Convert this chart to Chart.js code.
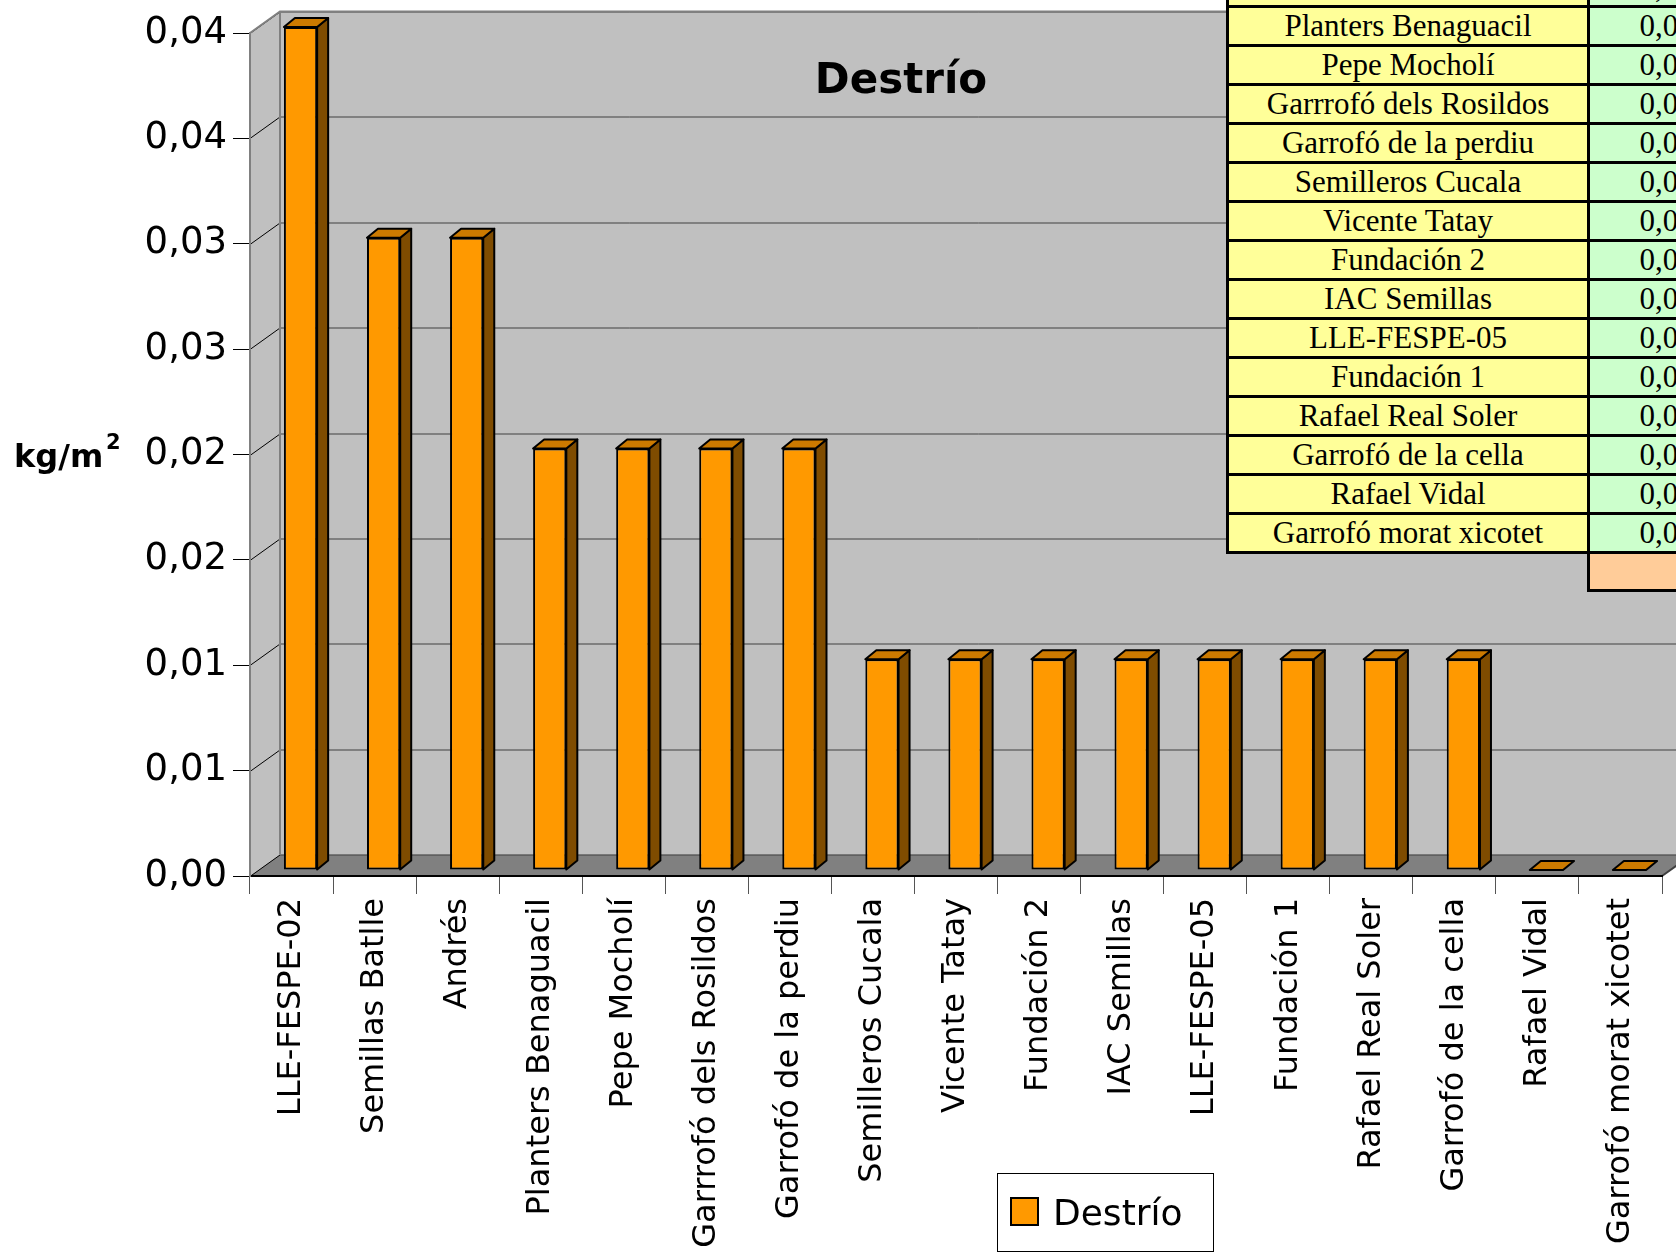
<!DOCTYPE html>
<html lang="es">
<head>
<meta charset="utf-8">
<title>Destrío</title>
<script src="https://cdn.jsdelivr.net/npm/chart.js@4.4.1/dist/chart.umd.min.js"></script>
<style>
    html, body { margin: 0; padding: 0; background: #fff; overflow: hidden; }
    #wrap { position: relative; width: 1676px; height: 1253px; overflow: hidden; }
    #destrioChart { position: absolute; left: 0; top: 0; }
    #dataTable {
        position: absolute; left: 1226px; top: -34px;
        display: grid; grid-template-columns: 358px 153px; grid-auto-rows: 36px;
        gap: 3px; padding: 3px; background: #000;
        font-family: "Liberation Serif", "Times New Roman", serif; font-size: 31px;
    }
    #dataTable div { display: flex; align-items: center; justify-content: center; white-space: nowrap; }
    #dataTable .name { background: #ffff99; }
    #dataTable .val { background: #ccffcc; }
    #totalCell {
        position: absolute; left: 1587px; top: 554px; width: 200px; height: 35px;
        background: #ffcc99; border-left: 3px solid #000; border-bottom: 3px solid #000;
    }
</style>
</head>
<body>
<div id="wrap">
    <canvas id="destrioChart" width="1676" height="1253"></canvas>
    <div id="dataTable"></div>
    <div id="totalCell"></div>
</div>
<script>
const categories = ["LLE-FESPE-02", "Semillas Batlle", "Andrés", "Planters Benaguacil", "Pepe Mocholí",
    "Garrrofó dels Rosildos", "Garrofó de la perdiu", "Semilleros Cucala", "Vicente Tatay", "Fundación 2",
    "IAC Semillas", "LLE-FESPE-05", "Fundación 1", "Rafael Real Soler", "Garrofó de la cella",
    "Rafael Vidal", "Garrofó morat xicotet"];
const destrioValues = [0.04, 0.03, 0.03, 0.02, 0.02, 0.02, 0.02, 0.01, 0.01, 0.01,
    0.01, 0.01, 0.01, 0.01, 0.01, 0, 0];
const yTickLabels = ["0,00", "0,01", "0,01", "0,02", "0,02", "0,03", "0,03", "0,04", "0,04"];

// spreadsheet table pasted over the chart (top row is cut off)
const tableNames = ["Andrés", "Planters Benaguacil", "Pepe Mocholí", "Garrrofó dels Rosildos",
    "Garrofó de la perdiu", "Semilleros Cucala", "Vicente Tatay", "Fundación 2", "IAC Semillas",
    "LLE-FESPE-05", "Fundación 1", "Rafael Real Soler", "Garrofó de la cella", "Rafael Vidal",
    "Garrofó morat xicotet"];
const tableValues = ["0,03", "0,02", "0,02", "0,02", "0,02", "0,01", "0,01", "0,01", "0,01",
    "0,01", "0,01", "0,01", "0,01", "0,00", "0,00"];

// fake 3D offsets
const WALL_DX = 30, WALL_DY = 21.5;
const BAR_DX = 9, BAR_DY = 6;
const DEPTH_DX = 11, DEPTH_DY = 9;
const FONT = "'DejaVu Sans', Verdana, sans-serif";

function poly(ctx, pts, fill, stroke, lw) {
    ctx.beginPath();
    pts.forEach((p, i) => i ? ctx.lineTo(p[0], p[1]) : ctx.moveTo(p[0], p[1]));
    ctx.closePath();
    if (fill) { ctx.fillStyle = fill; ctx.fill(); }
    if (stroke) { ctx.strokeStyle = stroke; ctx.lineWidth = lw || 1; ctx.stroke(); }
}

const walls3d = {
    id: "walls3d",
    beforeDraw(chart) {
        const { ctx, chartArea: a, scales: { y } } = chart;
        const L = a.left, R = a.right, T = a.top, B = a.bottom;
        ctx.save();
        // back wall, side wall, floor
        ctx.fillStyle = "#c0c0c0";
        ctx.fillRect(L + WALL_DX, T - WALL_DY, R - L, B - T);
        poly(ctx, [[L, T], [L + WALL_DX, T - WALL_DY], [L + WALL_DX, B - WALL_DY], [L, B]], "#c0c0c0");
        poly(ctx, [[L, B], [L + WALL_DX, B - WALL_DY], [R + WALL_DX, B - WALL_DY], [R, B]], "#808080");

        // grid lines on the back wall + slanted ones on the side wall
        ctx.lineWidth = 1;
        y.ticks.forEach(t => {
            const py = Math.round(y.getPixelForValue(t.value)) + 0.5;
            ctx.strokeStyle = "#404040";
            ctx.beginPath();
            ctx.moveTo(L + WALL_DX, py - WALL_DY);
            ctx.lineTo(R + WALL_DX, py - WALL_DY);
            ctx.stroke();
            ctx.strokeStyle = "#000";
            ctx.beginPath();
            ctx.moveTo(L, py);
            ctx.lineTo(L + WALL_DX, py - WALL_DY);
            ctx.stroke();
        });

        // wall edges
        ctx.strokeStyle = "#808080";
        ctx.lineWidth = 2;
        ctx.beginPath();
        ctx.moveTo(L, T);
        ctx.lineTo(L + WALL_DX, T - WALL_DY);
        ctx.lineTo(R + WALL_DX, T - WALL_DY);
        ctx.moveTo(L + WALL_DX, T - WALL_DY);
        ctx.lineTo(L + WALL_DX, B - WALL_DY);
        ctx.stroke();
        ctx.strokeStyle = "#404040";
        ctx.beginPath();
        ctx.moveTo(R, B);
        ctx.lineTo(R + WALL_DX, B - WALL_DY);
        ctx.stroke();
        ctx.restore();
    },
    beforeDatasetsDraw(chart) {
        chart.ctx.save();
        chart.ctx.translate(BAR_DX, -BAR_DY);
    },
    afterDatasetsDraw(chart) {
        const ctx = chart.ctx;
        ctx.lineJoin = "round";
        chart.getDatasetMeta(0).data.forEach(bar => {
            const { x, y, base, width } = bar.getProps(["x", "y", "base", "width"], true);
            const l = x - width / 2, r = x + width / 2;
            // side face
            if (base - y > 0.5) {
                poly(ctx, [[r, y], [r + DEPTH_DX, y - DEPTH_DY], [r + DEPTH_DX, base - DEPTH_DY], [r, base]],
                    "#7f4c00", "#000", 2);
            }
            // top face
            poly(ctx, [[l, y], [l + DEPTH_DX, y - DEPTH_DY], [r + DEPTH_DX, y - DEPTH_DY], [r, y]],
                "#cc7a00", "#000", 2);
        });
        ctx.restore();
    },
    afterDraw(chart) {
        const ctx = chart.ctx;
        const ds = chart.data.datasets[0];
        ctx.save();
        ctx.fillStyle = "#000";
        ctx.textBaseline = "alphabetic";

        // title inside the plot
        ctx.textAlign = "center";
        ctx.font = "bold 42px " + FONT;
        ctx.fillText(ds.label, 901, 93);

        // axis title kg/m2
        ctx.textAlign = "left";
        ctx.font = "bold 32px " + FONT;
        ctx.fillText("kg/m", 14, 467);
        ctx.font = "bold 21px " + FONT;
        ctx.fillText("2", 106, 449);

        // legend
        ctx.fillStyle = "#fff";
        ctx.fillRect(997.5, 1173.5, 216, 78);
        ctx.strokeStyle = "#000";
        ctx.lineWidth = 1;
        ctx.strokeRect(997.5, 1173.5, 216, 78);
        ctx.fillStyle = ds.backgroundColor;
        ctx.fillRect(1011, 1198, 27, 27);
        ctx.lineWidth = 2;
        ctx.strokeRect(1011, 1198, 27, 27);
        ctx.fillStyle = "#000";
        ctx.font = "36px " + FONT;
        ctx.fillText(ds.label, 1053, 1225);
        ctx.restore();
    }
};

document.addEventListener("DOMContentLoaded", () => {
    const tableEl = document.getElementById("dataTable");
    tableNames.forEach((name, i) => {
        const n = document.createElement("div");
        n.className = "name";
        n.textContent = name;
        const v = document.createElement("div");
        v.className = "val";
        v.textContent = tableValues[i];
        tableEl.appendChild(n);
        tableEl.appendChild(v);
    });

    const ctx = document.getElementById("destrioChart").getContext("2d");
    new Chart(ctx, {
        type: "bar",
        data: {
            labels: categories,
            datasets: [{
                label: "Destrío",
                data: destrioValues,
                backgroundColor: "#ff9900",
                borderColor: "#000",
                borderWidth: 2,
                borderSkipped: false,
                barPercentage: 0.4,
                categoryPercentage: 1,
                clip: false
            }]
        },
        options: {
            responsive: false,
            animation: false,
            layout: { padding: { top: 33, right: 14, left: 0, bottom: 0 } },
            plugins: {
                legend: { display: false },
                title: { display: false },
                tooltip: { enabled: false }
            },
            scales: {
                x: {
                    grid: { drawOnChartArea: false, tickLength: 18, color: "#555", offset: true },
                    border: { color: "#000", width: 2 },
                    ticks: {
                        autoSkip: false, maxRotation: 90, minRotation: 90, padding: 4,
                        color: "#000", font: { family: FONT, size: 32 }
                    },
                    afterFit: s => { s.height = 377; }
                },
                y: {
                    min: 0,
                    max: 0.04,
                    grid: { drawOnChartArea: false, tickLength: 17, color: "#000" },
                    border: { color: "#808080", width: 2 },
                    ticks: {
                        stepSize: 0.005, padding: 6, color: "#000",
                        font: { family: FONT, size: 37 },
                        callback: (value, index) => yTickLabels[index]
                    },
                    afterFit: s => { s.width = 250; }
                }
            }
        },
        plugins: [walls3d]
    });
});
</script>
</body>
</html>
